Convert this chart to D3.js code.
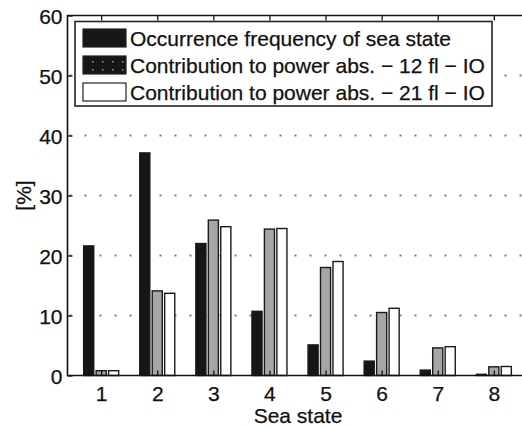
<!DOCTYPE html>
<html>
<head>
<meta charset="utf-8">
<script src="https://cdn.jsdelivr.net/npm/d3@7"></script>
<style>
  html, body { margin: 0; padding: 0; background: #fff; }
  svg { display: block; }
  text { font-family: "Liberation Sans", Arial, Helvetica, sans-serif; fill: #111; stroke: #111; stroke-width: 0.25; }
</style>
</head>
<body>
<svg id="chart" width="522" height="427"></svg>
<script>
// Sea state categories
const seaStates = [1, 2, 3, 4, 5, 6, 7, 8];
// Occurrence frequency of each sea state [%]
const occurrence = [21.6, 37.1, 22.0, 10.7, 5.1, 2.4, 0.9, 0.2];
// Contribution to absorbed power, 12 floaters, IO [%]
const power12 = [0.8, 14.1, 25.9, 24.4, 18.0, 10.5, 4.6, 1.45];
// Contribution to absorbed power, 21 floaters, IO [%]
const power21 = [0.8, 13.7, 24.8, 24.5, 19.0, 11.2, 4.8, 1.5];
const yTicks = [0, 10, 20, 30, 40, 50, 60];
const seriesNames = [
  "Occurrence frequency of sea state",
  "Contribution to power abs. \u2212 12 fl \u2212 IO",
  "Contribution to power abs. \u2212 21 fl \u2212 IO"
];

const series = [occurrence, power12, power21];
const fills = ["#161616", "#a6a6a6", "#ffffff"];

const svg = d3.select("#chart");
const plotLeft = 67.5, plotRight = 527.5, plotTop = 15.5, plotBottom = 375.5;

const x = d3.scaleLinear().domain([0.4, 8.6]).range([plotLeft, plotRight]);
const y = d3.scaleLinear().domain([0, 60]).range([plotBottom, plotTop]);

// grouped bar layout (in category units)
const groupOffset = 2 / 9;
const barW = 0.18;

// dotted horizontal grid
svg.append("g")
  .selectAll("line")
  .data(yTicks.filter(d => d > 0 && d < 60))
  .join("line")
  .attr("x1", plotLeft).attr("x2", plotRight)
  .attr("y1", d => y(d)).attr("y2", d => y(d))
  .attr("stroke", "#7a7a7a")
  .attr("stroke-width", 2)
  .attr("stroke-dasharray", "2,13")
  .attr("stroke-dashoffset", -2);

// bars
series.forEach((vals, si) => {
  svg.append("g")
    .selectAll("rect")
    .data(seaStates.map((s, i) => ({ s, v: vals[i] })))
    .join("rect")
    .attr("x", d => x(d.s + (si - 1) * groupOffset - barW / 2))
    .attr("width", d => x(d.s + barW / 2) - x(d.s - barW / 2))
    .attr("y", d => y(d.v))
    .attr("height", d => y(0) - y(d.v))
    .attr("fill", fills[si])
    .attr("stroke", "#1a1a1a")
    .attr("stroke-width", 1.4);
});

// axes
const yAxis = d3.axisLeft(y).tickValues(yTicks).tickSize(-5).tickPadding(5);
const gy = svg.append("g").attr("transform", `translate(${plotLeft},0)`).call(yAxis);
gy.select(".domain").remove();
gy.selectAll("text").attr("font-size", 21).attr("dy", "0.36em");
gy.selectAll("line").attr("stroke", "#111").attr("stroke-width", 1.3);

const xAxis = d3.axisBottom(x).tickValues(seaStates).tickSize(-5).tickPadding(11);
const gx = svg.append("g").attr("transform", `translate(0,${plotBottom})`).call(xAxis);
gx.select(".domain").remove();
gx.selectAll("text").attr("font-size", 21);
gx.selectAll("line").attr("stroke", "#111").attr("stroke-width", 1.3);

const xTop = d3.axisTop(x).tickValues(seaStates).tickSize(-5).tickFormat("");
const gxt = svg.append("g").attr("transform", `translate(0,${plotTop})`).call(xTop);
gxt.select(".domain").remove();
gxt.selectAll("line").attr("stroke", "#111").attr("stroke-width", 1.3);

// frame
svg.append("path")
  .attr("d", `M${plotRight},${plotTop}H${plotLeft}V${plotBottom}H${plotRight}`)
  .attr("fill", "none")
  .attr("stroke", "#111")
  .attr("stroke-width", 1.6);

// axis titles
svg.append("text")
  .attr("x", 298).attr("y", 423)
  .attr("text-anchor", "middle")
  .attr("font-size", 21)
  .text("Sea state");

svg.append("text")
  .attr("transform", `translate(31,${y(30)}) rotate(-90)`)
  .attr("text-anchor", "middle")
  .attr("font-size", 21)
  .text("[%]");

// legend
const defs = svg.append("defs");
const pat = defs.append("pattern")
  .attr("id", "dots12")
  .attr("patternUnits", "userSpaceOnUse")
  .attr("width", 10).attr("height", 8);
pat.append("rect").attr("width", 10).attr("height", 8).attr("fill", "#161616");
pat.append("rect").attr("x", 2).attr("y", 5).attr("width", 1.5).attr("height", 1.5).attr("fill", "#9a9a9a");

const legendFills = [fills[0], "url(#dots12)", fills[2]];
const lg = svg.append("g");
lg.append("rect")
  .attr("x", 75).attr("y", 21.5).attr("width", 417).attr("height", 84.5)
  .attr("fill", "#fff").attr("stroke", "#222").attr("stroke-width", 1.6);
seriesNames.forEach((name, i) => {
  const ry = 29 + i * 27;
  lg.append("rect")
    .attr("x", 83).attr("y", ry).attr("width", 43).attr("height", 18)
    .attr("fill", legendFills[i])
    .attr("stroke", "#222").attr("stroke-width", 1.2);
  lg.append("text")
    .attr("x", 130).attr("y", ry + 17)
    .attr("font-size", 21)
    .text(name);
});
</script>
</body>
</html>
